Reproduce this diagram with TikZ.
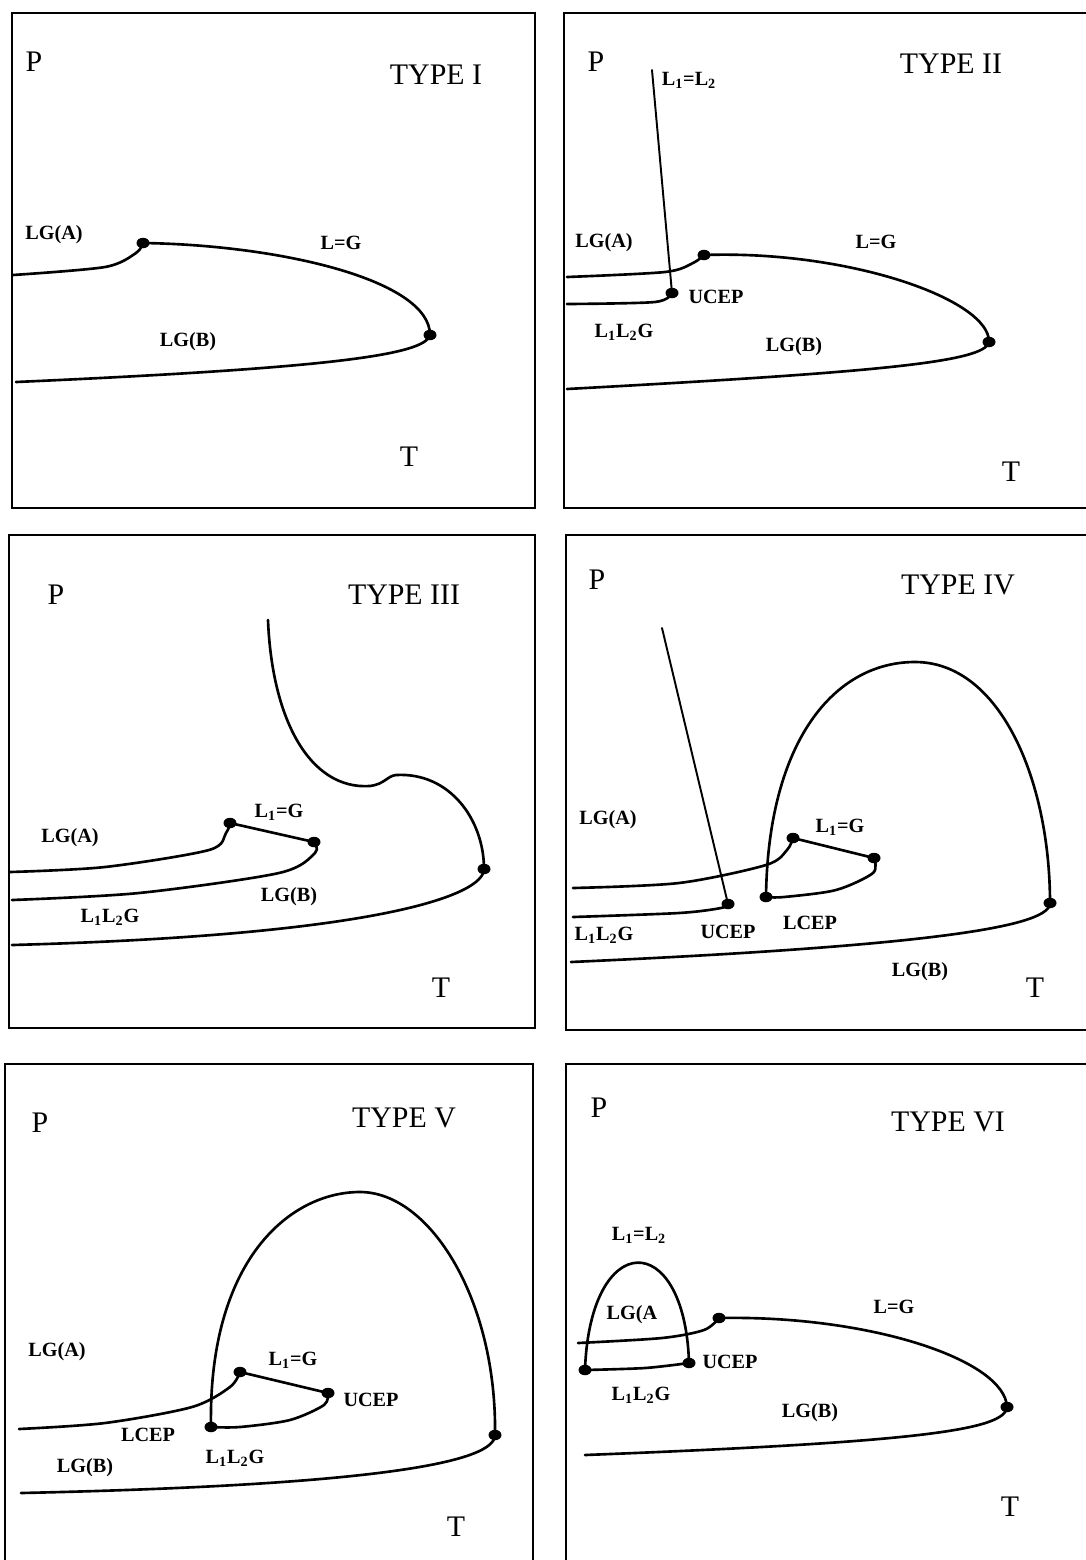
\documentclass[tikz,border=0pt]{standalone}
\usepackage{fontspec}
\setmainfont{Liberation Serif}
\usepackage{tikz}
\usetikzlibrary{shapes.geometric}

\newcommand{\LLG}{L\textsubscript{1}L\textsubscript{2}G}
\newcommand{\LeqG}{L\textsubscript{1}=G}
\newcommand{\LeqL}{L\textsubscript{1}=L\textsubscript{2}}

\begin{document}
\begin{tikzpicture}[x=0.02cm, y=-0.02cm,
  frame/.style={line width=1.5pt},
  curve/.style={line width=1.5pt, line join=round, line cap=round},
  thincurve/.style={line width=1.1pt, line cap=round},
  cpt/.style={ellipse, fill=black, inner sep=0pt, minimum width=0.26cm, minimum height=0.21cm},
  big/.style={inner sep=0pt, font=\fontsize{17}{20}\selectfont},
  lbl/.style={inner sep=0pt, font=\fontsize{11.5}{14}\selectfont\bfseries}]
\useasboundingbox (0,0) rectangle (1086,1560);
\clip (0,0) rectangle (1086,1560);

% TYPE I
\begin{scope}
{
\draw[frame] (12,13) rectangle (535,508);

% critical points
{
\node[cpt] (Ia) at (143,243) {};
\node[cpt] (Ib) at (430,335) {};
}

% curves
{
\draw[curve] plot[smooth] coordinates {(13,275) (105,267) (136,253) (Ia.center)};
\draw[curve] (Ia.center) .. controls (280,245) and (430,280) .. (Ib.center)
  .. controls (425,355) and (330,368) .. (16,382);
}

% labellings
{
\node[big] (pI) at (34,62) {P};
\node[big] (typeI) at (436,75) {TYPE I};
\node[lbl] (lgaI) at (54,235) {LG(A)};
\node[lbl] (lgI) at (341,243) {L=G};
\node[lbl] (lgbI) at (188,342) {LG(B)};
\node[big] (tI) at (409,457) {T};
}
}
\end{scope}

% TYPE II
\begin{scope}
{
\draw[frame] (1095,13) -- (564,13) -- (564,508) -- (1095,508);

% critical points
{
\node[cpt] (IIa) at (704,255) {};
\node[cpt] (IIb) at (989,342) {};
\node[cpt] (IIu) at (672,293) {};
\coordinate (IItop) at (652,70);
}

% curves
{
\draw[thincurve] (IItop) -- (IIu.center);
\draw[curve] plot[smooth] coordinates {(567,277) (665,272) (693,263) (IIa.center)};
\draw[curve] (IIa.center) .. controls (850,250) and (990,300) .. (IIb.center)
  .. controls (985,362) and (880,372) .. (567,389);
\draw[curve] plot[smooth] coordinates {(567,304) (655,302) (IIu.center)};
}

% labellings
{
\node[big] (pII) at (596,62) {P};
\node[big] (typeII) at (951,64) {TYPE II};
\node[lbl] (llII) at (689,80) {\LeqL};
\node[lbl] (lgaII) at (604,243) {LG(A)};
\node[lbl] (lgII) at (876,242) {L=G};
\node[lbl] (ucepII) at (716,297) {UCEP};
\node[lbl] (llgII) at (624,332) {\LLG};
\node[lbl] (lgbII) at (794,347) {LG(B)};
\node[big] (tII) at (1011,472) {T};
}
}
\end{scope}

% TYPE III
\begin{scope}
{
\draw[frame] (9,535) rectangle (535,1028);

% critical points
{
\node[cpt] (IIIa) at (230,823) {};
\node[cpt] (IIIb) at (314,842) {};
\node[cpt] (IIIc) at (484,869) {};
}

% curves
{
\draw[curve] (268,620) .. controls (272,720) and (310,790) .. (370,786)
  .. controls (385,784) and (387,776) .. (396,775)
  .. controls (450,772) and (484,820) .. (IIIc.center)
  .. controls (484,895) and (380,935) .. (12,945);
\draw[curve] plot[smooth] coordinates {(10,872) (105,867) (209,850) (226,833) (IIIa.center)};
\draw[curve] (IIIa.center) -- (IIIb.center);
\draw[curve] plot[smooth] coordinates {(IIIb.center) (315,853) (279,873) (139,893) (12,900)};
}

% labellings
{
\node[big] (pIII) at (56,595) {P};
\node[big] (typeIII) at (404,595) {TYPE III};
\node[lbl] (lgIII) at (279,812) {\LeqG};
\node[lbl] (lgaIII) at (70,838) {LG(A)};
\node[lbl] (lgbIII) at (289,897) {LG(B)};
\node[lbl] (llgIII) at (110,917) {\LLG};
\node[big] (tIII) at (441,988) {T};
}
}
\end{scope}

% TYPE IV
\begin{scope}
{
\draw[frame] (1095,535) -- (566,535) -- (566,1030) -- (1095,1030);

% critical points
{
\node[cpt] (IVu) at (728,904) {};
\node[cpt] (IVl) at (766,897) {};
\node[cpt] (IVa) at (793,838) {};
\node[cpt] (IVb) at (874,858) {};
\node[cpt] (IVc) at (1050,903) {};
\coordinate (IVtop) at (662,628);
}

% curves
{
\draw[thincurve] (IVtop) -- (IVu.center);
\draw[curve] (IVl.center) .. controls (768,740) and (835,662) .. (915,662)
  .. controls (1000,662) and (1050,780) .. (IVc.center)
  .. controls (1050,925) and (950,945) .. (571,962);
\draw[curve] plot[smooth] coordinates {(573,888) (679,883) (766,865) (787,850) (IVa.center)};
\draw[curve] (IVa.center) -- (IVb.center);
\draw[curve] plot[smooth] coordinates {(IVb.center) (873,873) (836,890) (784,897) (IVl.center)};
\draw[curve] plot[smooth] coordinates {(573,917) (679,913) (721,908) (IVu.center)};
}

% labellings
{
\node[big] (pIV) at (597,580) {P};
\node[big] (typeIV) at (958,585) {TYPE IV};
\node[lbl] (lgaIV) at (608,820) {LG(A)};
\node[lbl] (lgIV) at (840,827) {\LeqG};
\node[lbl] (llgIV) at (604,935) {\LLG};
\node[lbl] (ucepIV) at (728,932) {UCEP};
\node[lbl] (lcepIV) at (810,923) {LCEP};
\node[lbl] (lgbIV) at (920,972) {LG(B)};
\node[big] (tIV) at (1035,988) {T};
}
}
\end{scope}

% TYPE V
\begin{scope}
{
\draw[frame] (5,1570) -- (5,1064) -- (533,1064) -- (533,1570);

% critical points
{
\node[cpt] (Va) at (240,1372) {};
\node[cpt] (Vb) at (328,1393) {};
\node[cpt] (Vl) at (211,1427) {};
\node[cpt] (Vc) at (495,1435) {};
}

% curves
{
\draw[curve] (Vl.center) .. controls (208,1260) and (290,1192) .. (360,1192)
  .. controls (430,1192) and (497,1300) .. (Vc.center)
  .. controls (495,1462) and (380,1485) .. (21,1493);
\draw[curve] plot[smooth] coordinates {(19,1429) (105,1423) (192,1407) (230,1387) (Va.center)};
\draw[curve] (Va.center) -- (Vb.center);
\draw[curve] plot[smooth] coordinates {(Vb.center) (324,1405) (290,1420) (240,1427) (Vl.center)};
}

% labellings
{
\node[big] (pV) at (40,1123) {P};
\node[big] (typeV) at (404,1118) {TYPE V};
\node[lbl] (lgaV) at (57,1352) {LG(A)};
\node[lbl] (lgV) at (293,1360) {\LeqG};
\node[lbl] (ucepV) at (371,1400) {UCEP};
\node[lbl] (lcepV) at (148,1435) {LCEP};
\node[lbl] (lgbV) at (85,1468) {LG(B)};
\node[lbl] (llgV) at (235,1458) {\LLG};
\node[big] (tV) at (456,1527) {T};
}
}
\end{scope}

% TYPE VI
\begin{scope}
{
\draw[frame] (1095,1064) -- (566,1064) -- (566,1570);

% critical points
{
\node[cpt] (VIl) at (585,1370) {};
\node[cpt] (VIu) at (689,1363) {};
\node[cpt] (VIa) at (719,1318) {};
\node[cpt] (VIc) at (1007,1407) {};
}

% curves
{
\draw[curve] (VIl.center) .. controls (590,1228) and (685,1228) .. (VIu.center);
\draw[curve] plot[smooth] coordinates {(VIl.center) (645,1368) (VIu.center)};
\draw[curve] plot[smooth] coordinates {(578,1343) (662,1338) (704,1330) (VIa.center)};
\draw[curve] (VIa.center) .. controls (870,1315) and (1005,1360) .. (VIc.center)
  .. controls (1005,1430) and (920,1442) .. (585,1455);
}

% labellings
{
\node[big] (pVI) at (599,1108) {P};
\node[big] (typeVI) at (948,1122) {TYPE VI};
\node[lbl] (llVI) at (639,1235) {\LeqL};
\node[lbl] (lgaVI) at (632,1315) {LG(A};
\node[lbl] (lgVI) at (894,1307) {L=G};
\node[lbl] (ucepVI) at (730,1362) {UCEP};
\node[lbl] (llgVI) at (641,1395) {\LLG};
\node[lbl] (lgbVI) at (810,1413) {LG(B)};
\node[big] (tVI) at (1010,1507) {T};
}
}
\end{scope}
\end{tikzpicture}
\end{document}
